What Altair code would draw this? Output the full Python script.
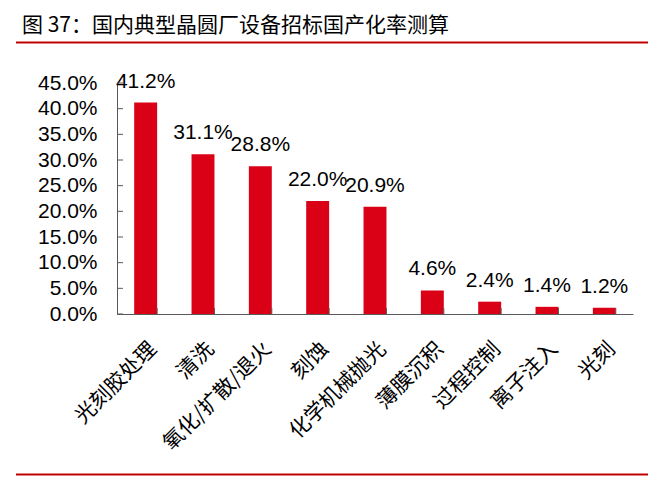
import altair as alt
import pandas as pd

categories = ["光刻胶处理", "清洗", "氧化/扩散/退火", "刻蚀", "化学机械抛光",
              "薄膜沉积", "过程控制", "离子注入", "光刻"]
values_pct = [41.2, 31.1, 28.8, 22.0, 20.9, 4.6, 2.4, 1.4, 1.2]
y_tick_pct = [0, 5, 10, 15, 20, 25, 30, 35, 40, 45]
title_text = ["图 37：国内典型晶圆厂设备招标国产化率测算"]

df = pd.DataFrame({"cat": categories, "val": [v / 100 for v in values_pct]})
yticks_df = pd.DataFrame({"val": [t / 100 for t in y_tick_pct]})
xticks_df = pd.DataFrame({"cat": categories})
title_df = pd.DataFrame({"t": title_text})
one = pd.DataFrame({"a": [0]})

W, H = 516, 231
AXIS = "#595959"
BAR = "#DA0016"
LINE = "#C00000"

xscale = alt.Scale(domain=categories, paddingInner=0.6, paddingOuter=0.3)
yscale = alt.Scale(domain=[0, 0.45], nice=False, zero=True)

xaxis = alt.Axis(title=None, labelAngle=-45, labelAlign="right", labelBaseline="top",
                 labelPadding=24, labelFont="Noto Sans CJK SC", labelFontSize=21,
                 labelColor="black", ticks=False, tickSize=0, domainColor=AXIS,
                 labelLimit=400, grid=False)
yaxis = alt.Axis(title=None, values=[t / 100 for t in y_tick_pct], format=".1%",
                 ticks=False, tickSize=0, grid=False, domainColor=AXIS,
                 labelFont="Liberation Sans", labelFontSize=21, labelColor="black",
                 labelPadding=20)

X = alt.X("cat:N", sort=categories, scale=xscale, axis=xaxis)
Y = alt.Y("val:Q", scale=yscale, axis=yaxis)

bars = alt.Chart(df).mark_bar(color=BAR).encode(x=X, y=Y)

labels = alt.Chart(df).mark_text(font="Liberation Sans", fontSize=21, baseline="alphabetic",
                                 dy=-15, color="black").encode(
    x=X, y=Y, text=alt.Text("val:Q", format=".1%"))

ytick_rules = alt.Chart(yticks_df).mark_rule(color=AXIS, strokeWidth=1).encode(
    y=Y, x=alt.value(0), x2=alt.value(6))

xtick_rules = alt.Chart(xticks_df).mark_rule(color=AXIS, strokeWidth=1).encode(
    x=alt.X("cat:N", sort=categories, scale=xscale, axis=xaxis, bandPosition=1),
    y=alt.value(H - 6), y2=alt.value(H))

title = alt.Chart(title_df).mark_text(font="Noto Sans CJK SC", fontSize=21, fontWeight="normal",
                                      align="left", baseline="middle", color="black").encode(
    text="t:N", x=alt.value(-95), y=alt.value(-57))

top_line = alt.Chart(one).mark_rule(color=LINE, strokeWidth=2).encode(
    x=alt.value(-101), x2=alt.value(531), y=alt.value(-40.5))
bottom_line = alt.Chart(one).mark_rule(color=LINE, strokeWidth=2).encode(
    x=alt.value(-101), x2=alt.value(531), y=alt.value(391.5))

chart = alt.layer(bars, labels, ytick_rules, xtick_rules, title, top_line, bottom_line).properties(
    width=W, height=H,
    padding={"left": 109, "top": 75, "right": 27, "bottom": 162},
    autosize=alt.AutoSizeParams(type="none"),
    background="white",
).configure_view(stroke=None)

chart.save("out.html", embed_options={"renderer": "svg", "actions": False})
